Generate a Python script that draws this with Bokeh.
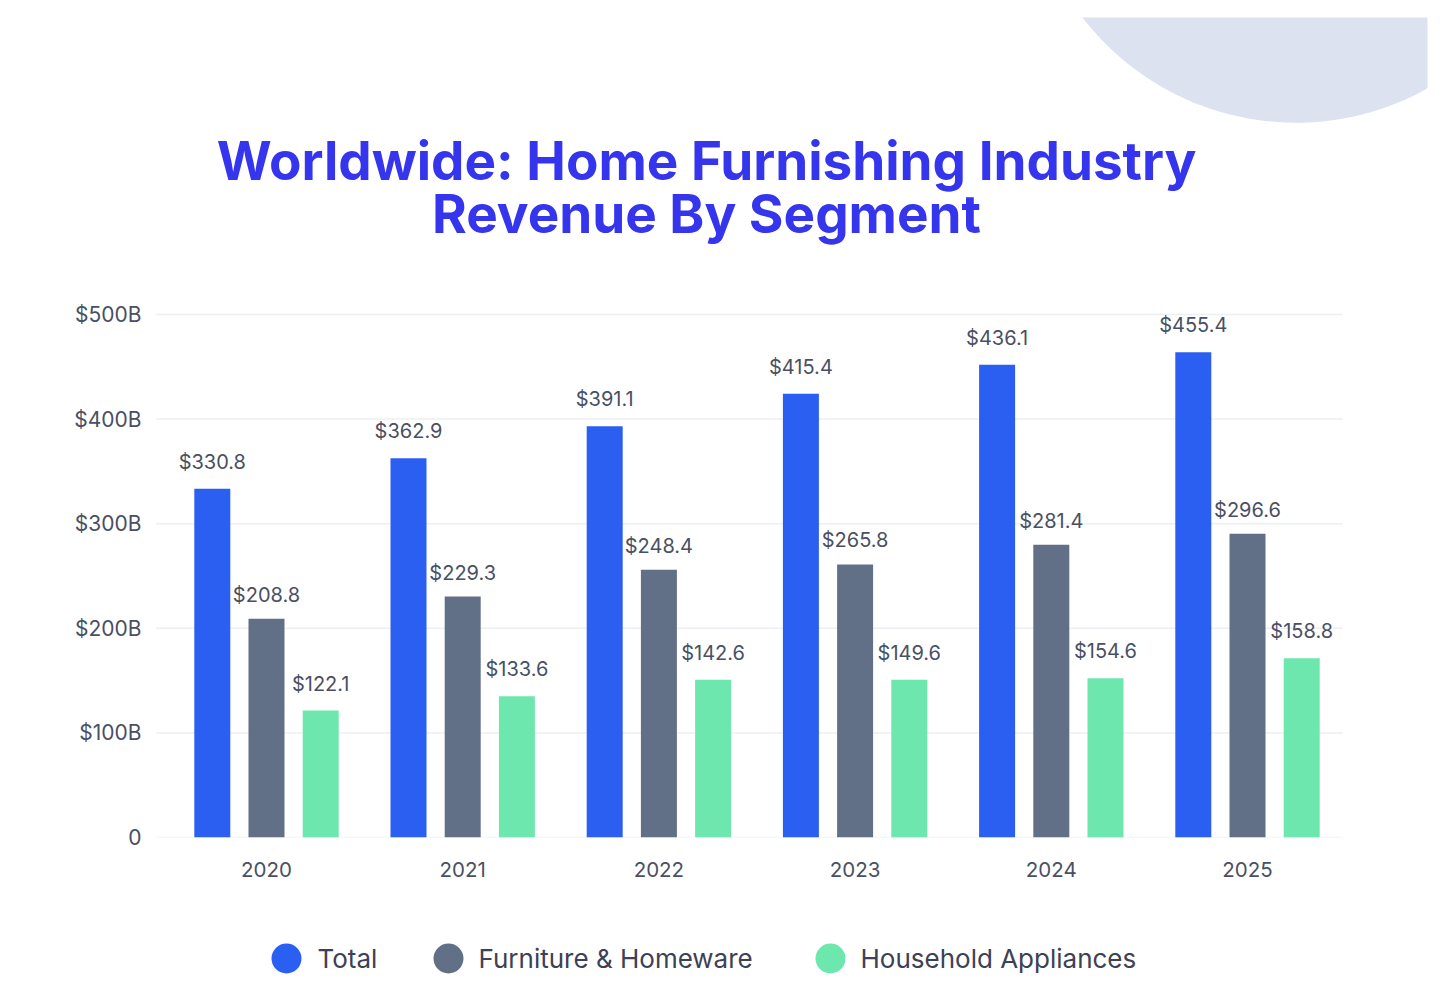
import numpy as np
from bokeh.plotting import figure
from bokeh.models import Range1d, FixedTicker, ColumnDataSource
from bokeh.layouts import column
from bokeh.transform import dodge
from bokeh.embed import file_html
from bokeh.resources import INLINE
from bokeh.core.properties import value

# ---------------- data ----------------
years = [2020, 2021, 2022, 2023, 2024, 2025]
year_labels = ["2020", "2021", "2022", "2023", "2024", "2025"]
series_names = ["Total", "Furniture & Homeware", "Household Appliances"]

# bar heights as drawn in the picture (US$ billions)
total_bars = [333.4, 362.6, 393.2, 424.2, 451.9, 464.0]
furniture_bars = [209.1, 230.4, 255.9, 261.0, 279.8, 290.3]
appliances_bars = [121.4, 135.1, 150.8, 150.8, 152.3, 171.4]

# value labels printed above the bars
total_labels = ["$330.8", "$362.9", "$391.1", "$415.4", "$436.1", "$455.4"]
furniture_labels = ["$208.8", "$229.3", "$248.4", "$265.8", "$281.4", "$296.6"]
appliances_labels = ["$122.1", "$133.6", "$142.6", "$149.6", "$154.6", "$158.8"]

y_ticks = [0, 100, 200, 300, 400, 500]
y_tick_labels = ["0", "$100B", "$200B", "$300B", "$400B", "$500B"]

title_lines = ["Worldwide: Home Furnishing Industry", "Revenue By Segment"]

# ---------------- styles ----------------
FONT = "Inter"
C_TOTAL = "#2b5ff1"
C_FURN = "#627087"
C_APPL = "#6ee7ae"
C_TITLE = "#3535ee"
C_TEXT = "#4a4f63"
C_GRID = "#eceff5"
W = 1450
H_CHART = 900
H_FOOT = 100

FRAME_L, FRAME_B = 155, 837          # page pixels of frame left / bottom
GROUP0, STEP = 266, 196.2            # page x of first group centre, px per year
PX_PER_UNIT = 1.046                  # px per US$ 1B

src = ColumnDataSource(dict(
    x=years, total=total_bars, furniture=furniture_bars, appliances=appliances_bars,
    total_lbl=total_labels, furniture_lbl=furniture_labels, appliances_lbl=appliances_labels,
))

x_start = years[0] - (GROUP0 - FRAME_L) / STEP
x_end = years[0] + (W - GROUP0) / STEP
y_end = FRAME_B / PX_PER_UNIT

p = figure(width=W, height=H_CHART, x_range=Range1d(x_start, x_end),
           y_range=Range1d(0, y_end), output_backend="svg", toolbar_location=None,
           min_border_left=FRAME_L, min_border_right=0, min_border_top=0,
           min_border_bottom=H_CHART - FRAME_B,
           outline_line_color=None, background_fill_color="white", border_fill_color="white")
# pixel-space ranges for decoration / title
p.extra_x_ranges = {"px": Range1d(FRAME_L, W)}
p.extra_y_ranges = {"py": Range1d(FRAME_B, 0)}

# decorative blob (top right)
theta = np.linspace(0, 2 * np.pi, 500)
bx = np.minimum(1295.5 + 269.2 * np.cos(theta), 1427)
by = np.maximum(-147 + 269.2 * np.sin(theta), 17)
p.patch(bx, by, fill_color="#dce2ef", line_color=None, x_range_name="px", y_range_name="py")

# title
p.text(x=[706, 706], y=[160, 213], text=title_lines, text_align="center",
       text_baseline="middle", text_font=value(FONT), text_font_style="bold",
       text_font_size="53px", text_color=C_TITLE, x_range_name="px", y_range_name="py")

# horizontal grid lines (limited to the chart area)
p.xgrid.visible = False
p.ygrid.visible = False
p.segment(x0=[FRAME_L] * len(y_ticks), x1=[1342] * len(y_ticks), y0=y_ticks, y1=y_ticks,
          line_color=C_GRID, line_width=1.5, x_range_name="px")

# bars
OFF = 54.2 / STEP
BW = 36 / STEP
p.vbar(x=dodge("x", -OFF, range=p.x_range), top="total", width=BW, source=src,
       fill_color=C_TOTAL, line_color=None)
p.vbar(x=dodge("x", 0, range=p.x_range), top="furniture", width=BW, source=src,
       fill_color=C_FURN, line_color=None)
p.vbar(x=dodge("x", OFF, range=p.x_range), top="appliances", width=BW, source=src,
       fill_color=C_APPL, line_color=None)

for off, col, yo in [(-OFF, "total", -27), (0, "furniture", -24), (OFF, "appliances", -27)]:
    p.text(x=dodge("x", off, range=p.x_range), y=col, text=col + "_lbl", source=src,
           text_align="center", text_baseline="middle", y_offset=yo,
           text_font=value(FONT), text_font_size="20px", text_color=C_TEXT)

# axes
p.yaxis.ticker = FixedTicker(ticks=y_ticks)
p.yaxis.major_label_overrides = {t: l for t, l in zip(y_ticks, y_tick_labels)}
p.xaxis.ticker = FixedTicker(ticks=years)
p.xaxis.major_label_overrides = {y: l for y, l in zip(years, year_labels)}
for ax in (p.xaxis, p.yaxis):
    ax.axis_line_color = None
    ax.major_tick_line_color = None
    ax.minor_tick_line_color = None
    ax.major_tick_out = 0
    ax.major_tick_in = 0
    ax.minor_tick_out = 0
    ax.minor_tick_in = 0
    ax.major_label_text_font = FONT
    ax.major_label_text_color = C_TEXT
p.yaxis.major_label_text_font_size = "21px"
p.xaxis.major_label_text_font_size = "20.5px"
p.yaxis.major_label_standoff = 14
p.xaxis.major_label_standoff = 24

# ---------------- footer legend ----------------
f = figure(width=W, height=H_FOOT, x_range=Range1d(FRAME_L, W),
           y_range=Range1d(H_CHART + H_FOOT, H_CHART),
           output_backend="svg", toolbar_location=None,
           min_border_left=FRAME_L, min_border_right=0, min_border_top=0, min_border_bottom=0,
           x_axis_type=None, y_axis_type=None, outline_line_color=None,
           background_fill_color="white", border_fill_color="white")
f.grid.visible = False
f.scatter(x=[286, 448, 830], y=[958, 958, 958], size=30, marker="circle",
          fill_color=[C_TOTAL, C_FURN, C_APPL], line_color=None)
f.text(x=[317, 478, 860], y=[958, 958, 958], text=series_names, text_align="left",
       text_baseline="middle", text_font=value(FONT), text_font_size="26px",
       text_color="#3d4156")

layout = column(p, f, spacing=0)
open("out.html", "w").write(file_html(layout, INLINE))
